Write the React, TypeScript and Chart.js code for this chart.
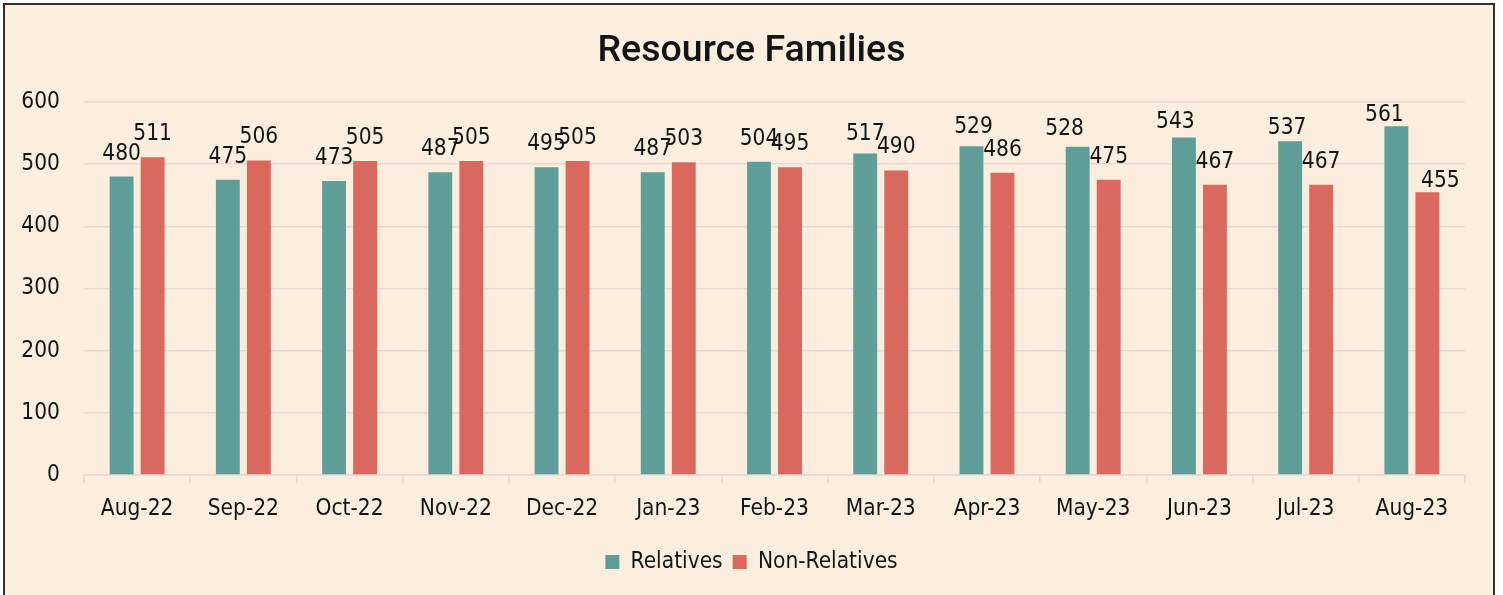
import React, { useEffect, useRef } from "react";
import { Chart, registerables } from "chart.js";

Chart.register(...registerables);

const categories = [
  "Aug-22", "Sep-22", "Oct-22", "Nov-22", "Dec-22", "Jan-23", "Feb-23",
  "Mar-23", "Apr-23", "May-23", "Jun-23", "Jul-23", "Aug-23",
];
const relatives = [480, 475, 473, 487, 495, 487, 504, 517, 529, 528, 543, 537, 561];
const nonRelatives = [511, 506, 505, 505, 505, 503, 495, 490, 486, 475, 467, 467, 455];
const yTickValues = [0, 100, 200, 300, 400, 500, 600];

const FONT = "'DejaVu Sans Condensed', 'DejaVu Sans', Verdana, sans-serif";
const TITLE_FONT = "Roboto, 'DejaVu Sans', sans-serif";
const TEXT = "#141414";
const GRID = "#EAD6D4";
const TEAL = "#5F9E98";
const SALMON = "#D9695E";
const BG = "#FCEEDF";
const FS = 22.5;

// label placement tweaks (dx, dy in px relative to default spot), keyed "dataset-index"
const labelNudges: Record<string, [number, number]> = {
  "0-7": [0, 3],
  "0-8": [2, 4],
  "0-9": [-13, 5],
  "0-10": [-8.5, 8],
  "0-11": [-3, 10],
  "0-12": [-12, 12],
  "1-12": [13, 12],
};

const dataLabelPlugin = {
  id: "dataLabels",
  afterDatasetsDraw(chart: any) {
    const ctx = chart.ctx;
    ctx.save();
    ctx.font = `${FS}px ${FONT}`;
    ctx.fillStyle = TEXT;
    ctx.textAlign = "center";
    ctx.textBaseline = "alphabetic";
    chart.data.datasets.forEach((ds: any, di: number) => {
      const meta = chart.getDatasetMeta(di);
      meta.data.forEach((bar: any, i: number) => {
        const n = labelNudges[`${di}-${i}`] || [0, 0];
        ctx.fillText(String(ds.data[i]), bar.x + n[0], bar.y - 17 + n[1]);
      });
    });
    ctx.restore();
  },
};

export default function App() {
  const ref = useRef<HTMLCanvasElement | null>(null);

  useEffect(() => {
    document.body.style.margin = "0";
    document.body.style.background = "#ffffff";
    if (!ref.current) return;
    const chart = new Chart(ref.current, {
      type: "bar",
      data: {
        labels: categories,
        datasets: [
          {
            label: "Relatives",
            data: relatives,
            backgroundColor: TEAL,
            categoryPercentage: 0.584,
            barPercentage: 0.77,
          },
          {
            label: "Non-Relatives",
            data: nonRelatives,
            backgroundColor: SALMON,
            categoryPercentage: 0.584,
            barPercentage: 0.77,
          },
        ],
      },
      options: {
        animation: false,
        responsive: false,
        maintainAspectRatio: false,
        layout: { padding: { left: 0, right: 0, top: 0, bottom: 11.75 } },
        plugins: {
          title: {
            display: true,
            text: "Resource Families",
            color: TEXT,
            font: { family: TITLE_FONT, size: 37.5, weight: "500" },
            padding: { top: 29, bottom: 28 },
          },
          legend: {
            position: "bottom",
            labels: {
              color: TEXT,
              font: { family: FONT, size: FS },
              boxWidth: 14,
              boxHeight: 14,
              padding: 10,
            },
          },
          tooltip: { enabled: false },
        },
        scales: {
          x: {
            grid: {
              display: true,
              drawOnChartArea: false,
              drawTicks: true,
              tickLength: 8,
              offset: true,
              color: GRID,
              lineWidth: 1.5,
            },
            border: { display: true, color: GRID, width: 1.5 },
            ticks: { color: TEXT, font: { family: FONT, size: FS }, padding: 13 },
            afterFit: (s: any) => {
              s.height = 65.75;
            },
          },
          y: {
            min: 0,
            max: 600,
            afterBuildTicks: (s: any) => {
              s.ticks = yTickValues.map((v) => ({ value: v }));
            },
            grid: { color: GRID, lineWidth: 1.5, drawTicks: false },
            border: { display: false },
            ticks: { color: TEXT, font: { family: FONT, size: FS }, padding: 24 },
            afterFit: (s: any) => {
              s.width = 84;
            },
          },
          yRight: {
            position: "right",
            display: true,
            grid: { display: false, drawTicks: false },
            border: { display: false },
            ticks: { display: false },
            afterFit: (s: any) => {
              s.width = 38;
            },
          },
        },
      },
      plugins: [dataLabelPlugin],
    });
    return () => chart.destroy();
  }, []);

  return (
    <div style={{ position: "relative", width: 1503, height: 595, overflow: "hidden", background: "#fff" }}>
      <div
        style={{
          position: "absolute",
          left: 3,
          top: 3,
          width: 1488,
          height: 600,
          background: BG,
          borderTop: "2px solid #3B2C2A",
          borderLeft: "2px solid #3B2C2A",
          borderRight: "2px solid #3B2C2A",
        }}
      />
      <canvas
        ref={ref}
        width={1503}
        height={595}
        style={{ position: "absolute", left: 0, top: 0, width: 1503, height: 595 }}
      />
    </div>
  );
}
